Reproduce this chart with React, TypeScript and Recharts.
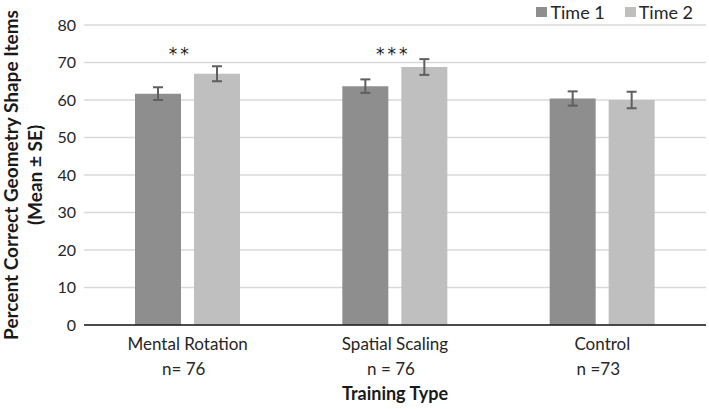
import React from "react";
import {
  BarChart,
  Bar,
  XAxis,
  YAxis,
  CartesianGrid,
  ErrorBar,
  Legend,
  ReferenceDot,
} from "recharts";

const categories = ["Mental Rotation", "Spatial Scaling", "Control"];
const sampleSizes = ["n= 76", "n = 76", "n =73"];
const time1 = [61.7, 63.7, 60.4];
const time2 = [67.0, 68.8, 60.0];
const time1Se = [1.7, 1.8, 1.9];
const time2Se = [2.0, 2.1, 2.2];
const stars = ["**", "***", ""];
const starLevel = 70.7;
const yTicks = [0, 10, 20, 30, 40, 50, 60, 70, 80];

const FONT = "Lato, 'Open Sans', sans-serif";
const C1 = "#8e8e8e";
const C2 = "#bfbfbf";

const data = categories.map((name, i) => ({
  name,
  t1: time1[i],
  t2: time2[i],
  t1se: time1Se[i],
  t2se: time2Se[i],
}));

function CategoryTick({ x, y, payload, index }: any) {
  return (
    <g>
      <text x={x} y={y + 17} textAnchor="middle" fontSize={17} fill="#262626" fontFamily={FONT}>
        {payload.value}
      </text>
      <text x={x - 4} y={y + 42} textAnchor="middle" fontSize={17} fill="#262626" fontFamily={FONT}>
        {sampleSizes[index]}
      </text>
    </g>
  );
}

function YTitle({ viewBox }: any) {
  const cy = viewBox.y + viewBox.height / 2;
  return (
    <g fontFamily={FONT} fontWeight={700} fontSize={19} fill="#1a1a1a">
      <text transform={`translate(18,${cy}) rotate(-90)`} textAnchor="middle">
        Percent Correct Geometry Shape Items
      </text>
      <text transform={`translate(42,${cy}) rotate(-90)`} textAnchor="middle">
        (Mean ± SE)
      </text>
    </g>
  );
}

function XTitle({ viewBox }: any) {
  return (
    <text
      x={viewBox.x + viewBox.width / 2}
      y={400}
      textAnchor="middle"
      fontFamily={FONT}
      fontWeight={700}
      fontSize={18}
      fill="#1a1a1a"
    >
      Training Type
    </text>
  );
}

function LegendBox() {
  const items = [
    { label: "Time 1", color: C1 },
    { label: "Time 2", color: C2 },
  ];
  return (
    <div
      style={{
        display: "flex",
        justifyContent: "flex-end",
        fontFamily: FONT,
        fontSize: 18,
        color: "#262626",
        lineHeight: "20px",
        height: 20,
      }}
    >
      {items.map((it) => (
        <div key={it.label} style={{ display: "flex", alignItems: "center", marginLeft: 20 }}>
          <span style={{ width: 11, height: 10, background: it.color, display: "inline-block", marginRight: 3 }} />
          <span>{it.label}</span>
        </div>
      ))}
    </div>
  );
}

function StarLabel({ viewBox, value }: any) {
  return (
    <text
      x={viewBox.x - 19}
      y={viewBox.y}
      textAnchor="start"
      fontFamily="'DejaVu Sans', sans-serif"
      fontSize={17}
      letterSpacing={3}
      fill="#1a1a1a"
      stroke="none"
    >
      {value}
    </text>
  );
}

export default function App() {
  return (
    <div style={{ position: "fixed", left: 0, top: 0, background: "#fff" }}>
      <BarChart
        width={709}
        height={409}
        data={data}
        margin={{ top: 5, right: 3, bottom: 0, left: 0 }}
        barGap={13}
        barSize={46}
      >
        <CartesianGrid stroke="#d9d9d9" strokeWidth={1.5} vertical={false} />
        <XAxis
          dataKey="name"
          height={84}
          tickLine={false}
          axisLine={{ stroke: "#1a1a1a", strokeWidth: 1.5 }}
          tick={<CategoryTick />}
          interval={0}
          label={<XTitle />}
        />
        <YAxis
          width={84}
          domain={[0, 80]}
          ticks={yTicks}
          tickLine={false}
          axisLine={false}
          tick={{ fontSize: 16, fill: "#262626", fontFamily: FONT }}
          label={<YTitle />}
        />
        <Legend
          verticalAlign="top"
          align="right"
          content={<LegendBox />}
          wrapperStyle={{ top: 2, right: 16, width: 220, left: "auto" }}
        />
        <Bar dataKey="t1" fill={C1} isAnimationActive={false}>
          <ErrorBar dataKey="t1se" width={5} stroke="#5f5f5f" strokeWidth={2} />
        </Bar>
        <Bar dataKey="t2" fill={C2} isAnimationActive={false}>
          <ErrorBar dataKey="t2se" width={5} stroke="#5f5f5f" strokeWidth={2} />
        </Bar>
        {categories.map((c, i) =>
          stars[i] ? (
            <ReferenceDot
              key={c}
              x={c}
              y={starLevel}
              r={0}
              fill="none"
              stroke="none"
              label={<StarLabel value={stars[i]} />}
            />
          ) : null
        )}
      </BarChart>
    </div>
  );
}
